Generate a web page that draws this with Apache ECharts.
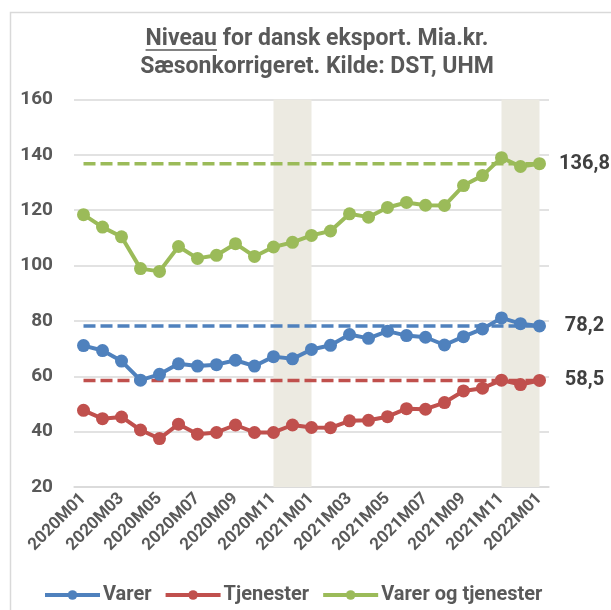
<!DOCTYPE html>
<html>
<head>
<meta charset="utf-8">
<script src="https://cdn.jsdelivr.net/npm/echarts@6/dist/echarts.min.js"></script>
<style>
  html, body { margin: 0; padding: 0; background: #fff; }
  #chart { width: 611px; height: 610px; }
</style>
</head>
<body>
<div id="chart"></div>
<script>
// maaneder
var months = ['2020M01','2020M02','2020M03','2020M04','2020M05','2020M06','2020M07','2020M08','2020M09','2020M10','2020M11','2020M12',
              '2021M01','2021M02','2021M03','2021M04','2021M05','2021M06','2021M07','2021M08','2021M09','2021M10','2021M11','2021M12','2022M01'];

var varer     = [71.1, 69.3, 65.5, 58.6, 60.7, 64.5, 63.7, 64.2, 65.8, 63.7, 67.1, 66.3, 69.7, 71.2, 75.1, 73.7, 76.3, 74.7, 74.1, 71.3, 74.3, 77.1, 81.1, 79.0, 78.2];
var tjenester = [47.7, 44.7, 45.3, 40.6, 37.5, 42.7, 39.1, 39.7, 42.4, 39.7, 39.7, 42.4, 41.5, 41.4, 43.9, 44.1, 45.4, 48.3, 48.1, 50.5, 54.7, 55.7, 58.6, 57.0, 58.5];
var ialt      = [118.4, 113.9, 110.4, 98.9, 97.9, 106.9, 102.6, 103.7, 107.9, 103.3, 106.7, 108.4, 110.9, 112.5, 118.7, 117.5, 121.0, 122.8, 121.8, 121.7, 128.9, 132.5, 139.0, 135.8, 136.8];

// seneste niveau (stiplede linjer)
var levelNames  = ['Varer', 'Tjenester', 'Varer og tjenester'];
var levelValues = [78.2, 58.5, 136.8];

// skraverede perioder
var shaded = [['2020M11', '2021M01'], ['2021M11', '2022M01']];

var yTicks = [20, 40, 60, 80, 100, 120, 140, 160];

var colors = ['#4F81BD', '#C0504D', '#9BBB59'];
var FONT = 'Roboto, "Liberation Sans", sans-serif';
var TXT = '#595959';

var myChart = echarts.init(document.getElementById('chart'));

var title1a = 'Niveau';
var title1b = ' for dansk eksport. Mia.kr.';
var title2 = 'Sæsonkorrigeret. Kilde: DST, UHM';
var titleX = 317, titleY = 25, titleSize = 23;

// maal teksten til understregning
var cv = document.createElement('canvas').getContext('2d');
cv.font = 'bold ' + titleSize + 'px ' + FONT;
var wA = cv.measureText(title1a).width;
var wLine = cv.measureText(title1a + title1b).width;
var ulStart = titleX - wLine / 2;

var mainSeries = [
    { name: 'Varer', data: varer },
    { name: 'Tjenester', data: tjenester },
    { name: 'Varer og tjenester', data: ialt }
];

var series = [];
// stiplede niveaulinjer forrest i listen, saa de ligger under
levelValues.forEach(function (v, i) {
    series.push({
        name: levelNames[i] + ' niveau',
        type: 'line',
        data: [[months[0], v], [months[months.length - 1], v]],
        symbol: 'none',
        silent: true,
        lineStyle: { color: colors[i], width: 3.5, type: [12, 5] },
        endLabel: {
            show: true,
            formatter: function () { return String(v).replace('.', ','); },
            align: 'center',
            distance: 45,
            color: '#404040',
            fontFamily: FONT,
            fontWeight: 'bold',
            fontSize: 20
        },
        z: 2
    });
});

mainSeries.forEach(function (s, i) {
    var item = {
        name: s.name,
        type: 'line',
        data: s.data,
        symbol: 'circle',
        symbolSize: 13,
        showAllSymbol: true,
        itemStyle: { color: colors[i] },
        lineStyle: { color: colors[i], width: 4 },
        z: 3
    };
    if (i === 0) {
        item.markArea = {
            silent: true,
            itemStyle: { color: '#ECEAE1' },
            data: shaded.map(function (p) { return [{ xAxis: p[0] }, { xAxis: p[1] }]; })
        };
    }
    series.push(item);
});

var option = {
    animation: false,
    backgroundColor: '#fff',
    graphic: [
        {
            type: 'rect',
            shape: { x: 10.5, y: 12.5, width: 700, height: 700 },
            style: { fill: 'none', stroke: '#D9D9D9', lineWidth: 1.5 },
            silent: true
        },
        {
            type: 'text',
            x: titleX, y: titleY,
            style: {
                text: title1a + title1b + '\n' + title2,
                textAlign: 'center',
                fill: TXT,
                font: 'bold ' + titleSize + 'px ' + FONT,
                lineHeight: 28
            }
        },
        {
            type: 'line',
            shape: { x1: ulStart, y1: 50, x2: ulStart + wA, y2: 50 },
            style: { stroke: TXT, lineWidth: 1.5 }
        }
    ],
    legend: {
        data: levelNames,
        left: 38,
        top: 580,
        itemWidth: 55,
        itemHeight: 12,
        itemGap: 12,
        lineStyle: { width: 4 },
        textStyle: { color: TXT, fontFamily: FONT, fontWeight: 'bold', fontSize: 20, padding: [0, 0, 0, -2] }
    },
    grid: { left: 74, right: 62, top: 99.5, bottom: 123 },
    xAxis: {
        type: 'category',
        data: months,
        boundaryGap: true,
        axisLine: { lineStyle: { color: '#D9D9D9', width: 1.5 } },
        axisTick: { show: false },
        axisLabel: {
            interval: 1,
            rotate: 45,
            margin: 9,
            color: TXT,
            fontFamily: FONT,
            fontWeight: 'bold',
            fontSize: 17
        }
    },
    yAxis: {
        type: 'value',
        min: yTicks[0],
        max: yTicks[yTicks.length - 1],
        interval: 20,
        axisLine: { show: false },
        axisTick: { show: false },
        splitLine: { lineStyle: { color: '#D9D9D9', width: 1.5 } },
        axisLabel: {
            margin: 21,
            color: TXT,
            fontFamily: FONT,
            fontWeight: 'bold',
            fontSize: 19
        }
    },
    series: series
};

myChart.setOption(option);
</script>
</body>
</html>
